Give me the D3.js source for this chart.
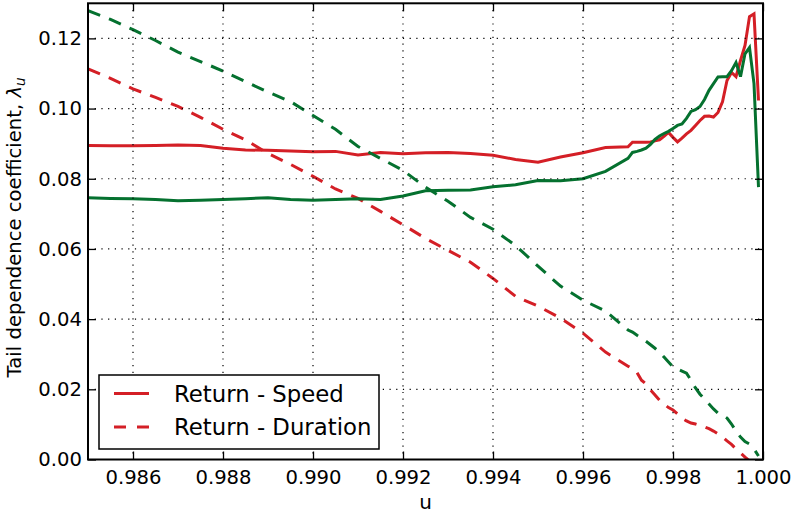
<!DOCTYPE html>
<html>
<head>
<meta charset="utf-8">
<script src="https://cdnjs.cloudflare.com/ajax/libs/d3/7.8.5/d3.min.js"></script>
<style>
  body { margin: 0; background: #fff; }
  text { font-family: "DejaVu Sans", sans-serif; }
</style>
</head>
<body>
<div id="chart-container"></div>
<script>
// threshold u
const uValues = [
  0.9850, 0.9855, 0.9860, 0.9865, 0.9870, 0.9875, 0.9880, 0.9885, 0.9890, 0.9895,
  0.9900, 0.9905, 0.9910, 0.9915, 0.9920, 0.9925, 0.9930, 0.9935, 0.9940, 0.9945,
  0.9950, 0.9955, 0.9960, 0.9965, 0.9970,
  0.9971, 0.9972, 0.9973, 0.9974, 0.9975, 0.9976, 0.9977, 0.9978, 0.9979, 0.9980,
  0.9981, 0.9982, 0.9983, 0.9984, 0.9985, 0.9986, 0.9987, 0.9988, 0.9989, 0.9990,
  0.9991, 0.9992, 0.9993, 0.9994, 0.9995, 0.9996, 0.9997, 0.9998, 0.9999
];

const redSpeed = [
  0.0895, 0.0894, 0.0894, 0.0895, 0.0896, 0.0895, 0.0887, 0.0882, 0.0881, 0.0879,
  0.0877, 0.0878, 0.0868, 0.0875, 0.0871, 0.0874, 0.0875, 0.0872, 0.0867, 0.0855,
  0.0847, 0.0862, 0.0874, 0.0889, 0.0891,
  0.0904, 0.0904, 0.0904, 0.0904, 0.0905, 0.0908, 0.0911, 0.0921, 0.0932, 0.0918,
  0.0905, 0.0916, 0.0928, 0.0938, 0.0952, 0.0966, 0.0978, 0.0979, 0.0976, 0.0989,
  0.1019, 0.1080, 0.1103, 0.1091, 0.1137, 0.1180, 0.1262, 0.1270, 0.1023
];

const redDuration = [
  0.1113, 0.1086, 0.1056, 0.1032, 0.1006, 0.0975, 0.0941, 0.0911, 0.0872, 0.0841,
  0.0807, 0.0771, 0.0744, 0.0707, 0.0669, 0.0630, 0.0596, 0.0562, 0.0516, 0.0465,
  0.0437, 0.0403, 0.0360, 0.0306, 0.0266,
  0.0258, 0.0248, 0.0226, 0.0215, 0.0198, 0.0184, 0.0169, 0.0158, 0.0148, 0.0141,
  0.0130, 0.0118, 0.0110, 0.0104, 0.0101, 0.0097, 0.0093, 0.0088, 0.0081, 0.0073,
  0.0064, 0.0053, 0.0043, 0.0030, 0.0019, 0.0007, -0.0004, null, null
];

const greenSpeed = [
  0.0746, 0.0744, 0.0743, 0.0741, 0.0737, 0.0739, 0.0741, 0.0743, 0.0746, 0.0741,
  0.0739, 0.0741, 0.0743, 0.0741, 0.0751, 0.0766, 0.0767, 0.0768, 0.0777, 0.0783,
  0.0795, 0.0794, 0.0800, 0.0821, 0.0858,
  0.0875, 0.0878, 0.0882, 0.0887, 0.0898, 0.0912, 0.0922, 0.0929, 0.0935, 0.0943,
  0.0952, 0.0956, 0.0972, 0.0992, 0.0997, 0.1006, 0.1026, 0.1052, 0.1071, 0.1090,
  0.1091, 0.1091, 0.1108, 0.1131, 0.1091, 0.1156, 0.1174, 0.1071, 0.0776
];

const greenDuration = [
  0.1279, 0.1254, 0.1225, 0.1194, 0.1161, 0.1134, 0.1107, 0.1077, 0.1047, 0.1020,
  0.0980, 0.0941, 0.0892, 0.0858, 0.0824, 0.0776, 0.0736, 0.0690, 0.0656, 0.0610,
  0.0551, 0.0494, 0.0454, 0.0423, 0.0369,
  0.0363, 0.0354, 0.0346, 0.0337, 0.0327, 0.0317, 0.0306, 0.0292, 0.0278, 0.0264,
  0.0258, 0.0252, 0.0246, 0.0226, 0.0204, 0.0186, 0.0172, 0.0158, 0.0144, 0.0132,
  0.0127, 0.0118, 0.0101, 0.0081, 0.0064, 0.0051, 0.0044, 0.0030, 0.0010
];

const xTicks = [0.986, 0.988, 0.990, 0.992, 0.994, 0.996, 0.998, 1.000];
const yTicks = [0.00, 0.02, 0.04, 0.06, 0.08, 0.10, 0.12];
const legendLabels = ["Return - Speed", "Return - Duration"];

const red = "#d41f26";
const green = "#05712f";

const chartWidth = 793;
const chartHeight = 517;
const margin = { top: 3.3, right: 30, bottom: 57.5, left: 88 };
const width = chartWidth - margin.left - margin.right;
const height = chartHeight - margin.top - margin.bottom;

const svg = d3.select("#chart-container")
    .append("svg")
    .attr("width", chartWidth)
    .attr("height", chartHeight)
    .append("g")
    .attr("transform", `translate(${margin.left}, ${margin.top})`);

const xScale = d3.scaleLinear().domain([0.985, 1.0]).range([0, width]);
const yScale = d3.scaleLinear().domain([0, 0.13]).range([height, 0]);

svg.append("defs").append("clipPath")
    .attr("id", "plot-clip")
    .append("rect")
    .attr("width", width)
    .attr("height", height);

const series = [
  { values: redSpeed, color: red, dash: null },
  { values: redDuration, color: red, dash: "13,9.5" },
  { values: greenSpeed, color: green, dash: null },
  { values: greenDuration, color: green, dash: "13,9.5" }
];

const line = d3.line()
    .defined(d => d[1] !== null)
    .x(d => xScale(d[0]))
    .y(d => yScale(d[1]));

const plot = svg.append("g").attr("clip-path", "url(#plot-clip)");

plot.selectAll(".series")
    .data(series)
    .enter().append("path")
    .attr("class", "series")
    .attr("d", s => line(uValues.map((u, i) => [u, s.values[i]])))
    .attr("fill", "none")
    .attr("stroke", s => s.color)
    .attr("stroke-width", 3)
    .attr("stroke-dasharray", s => s.dash);

// dotted grid
svg.append("g")
    .selectAll("line")
    .data(xTicks)
    .enter().append("line")
    .attr("x1", d => xScale(d))
    .attr("x2", d => xScale(d))
    .attr("y1", 0)
    .attr("y2", height)
    .attr("stroke", "#000")
    .attr("stroke-width", 1.2)
    .attr("stroke-dasharray", "1.2,5.5");

svg.append("g")
    .selectAll("line")
    .data(yTicks)
    .enter().append("line")
    .attr("x1", 0)
    .attr("x2", width)
    .attr("y1", d => yScale(d))
    .attr("y2", d => yScale(d))
    .attr("stroke", "#000")
    .attr("stroke-width", 1.2)
    .attr("stroke-dasharray", "1.2,5.5");

// axes with inward ticks
const xAxis = d3.axisBottom(xScale).tickValues(xTicks).tickFormat(d3.format(".3f"))
    .tickSizeInner(-8).tickSizeOuter(0).tickPadding(11);
const xAxisTop = d3.axisTop(xScale).tickValues(xTicks).tickFormat("")
    .tickSizeInner(-8).tickSizeOuter(0);
const yAxis = d3.axisLeft(yScale).tickValues(yTicks).tickFormat(d3.format(".2f"))
    .tickSizeInner(-8).tickSizeOuter(0).tickPadding(6);
const yAxisRight = d3.axisRight(yScale).tickValues(yTicks).tickFormat("")
    .tickSizeInner(-8).tickSizeOuter(0);

const axes = [
  svg.append("g").attr("transform", `translate(0, ${height})`).call(xAxis),
  svg.append("g").call(xAxisTop),
  svg.append("g").call(yAxis),
  svg.append("g").attr("transform", `translate(${width}, 0)`).call(yAxisRight)
];
axes.forEach(g => {
  g.select(".domain").remove();
  g.selectAll(".tick line").attr("stroke", "#000").attr("stroke-width", 1.3);
  g.selectAll(".tick text").attr("fill", "#000").style("font-size", "19.6px");
});

svg.append("rect")
    .attr("width", width)
    .attr("height", height)
    .attr("fill", "none")
    .attr("stroke", "#000")
    .attr("stroke-width", 2);

// axis labels
svg.append("text")
    .attr("x", width / 2)
    .attr("y", height + 50)
    .attr("text-anchor", "middle")
    .style("font-size", "20px")
    .text("u");

const yLabel = svg.append("text")
    .attr("transform", `translate(${-67}, ${height / 2 - 4}) rotate(-90)`)
    .attr("text-anchor", "middle")
    .style("font-size", "19.6px");
yLabel.append("tspan").text("Tail dependence coefficient, ");
yLabel.append("tspan").style("font-style", "italic").text("λ");
yLabel.append("tspan").style("font-style", "italic").style("font-size", "13.5px")
    .attr("dy", 4).text("u");

// legend
const legend = svg.append("g")
    .attr("transform", `translate(${99 - margin.left}, ${375 - margin.top})`);

legend.append("rect")
    .attr("width", 280)
    .attr("height", 74)
    .attr("fill", "#fff")
    .attr("stroke", "#000")
    .attr("stroke-width", 1.5);

legend.selectAll(".entry-line")
    .data(legendLabels)
    .enter().append("line")
    .attr("class", "entry-line")
    .attr("x1", 15)
    .attr("x2", 50)
    .attr("y1", (d, i) => 18.5 + i * 33.5)
    .attr("y2", (d, i) => 18.5 + i * 33.5)
    .attr("stroke", red)
    .attr("stroke-width", 3)
    .attr("stroke-dasharray", (d, i) => i === 1 ? "12,11" : null);

legend.selectAll(".entry-text")
    .data(legendLabels)
    .enter().append("text")
    .attr("class", "entry-text")
    .attr("x", 75)
    .attr("y", (d, i) => 18.5 + i * 33.5)
    .attr("dy", "0.36em")
    .style("font-size", "22.8px")
    .text(d => d);
</script>
</body>
</html>
